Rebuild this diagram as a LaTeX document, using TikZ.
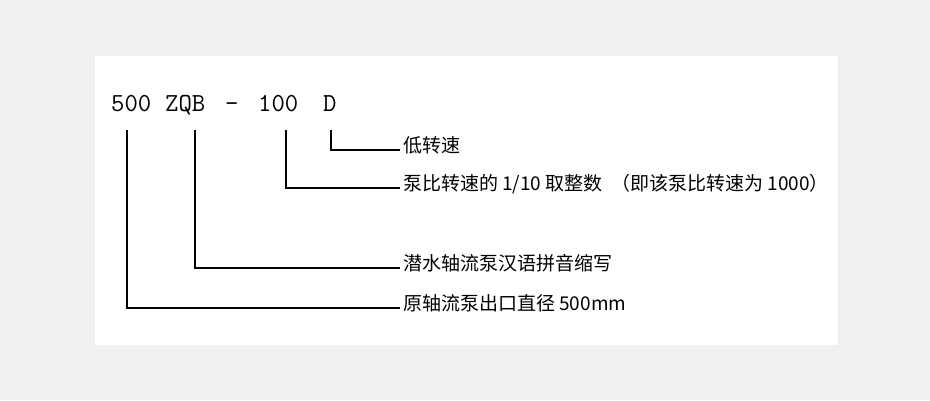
\documentclass[tikz,border=0pt]{standalone}
\usepackage{fontspec}
\setmonofont{Latin Modern Mono}
\newfontfamily\cjk{Noto Sans CJK SC}
\usepackage{tikz}
\usetikzlibrary{positioning, calc}

\definecolor{pagegray}{HTML}{F0F0F0}

\tikzset{
	codepart/.style={anchor=base west, inner sep=0pt, font=\fontsize{26}{30}\selectfont\ttfamily},
	meaning/.style={anchor=base west, inner xsep=3pt, inner ysep=0pt, font=\fontsize{19}{22}\selectfont\cjk},
	bracket/.style={line width=2pt}
}

\begin{document}
\begin{tikzpicture}[x=1pt, y=-1pt]
		\useasboundingbox (0,0) rectangle (930,400);
		\fill [pagegray] (0,0) rectangle (930,400);
		\fill [white] (95,56) rectangle (838,345);
		
		\node (code500) [codepart] at (111,111) {500};
		\node (codeZQB) [codepart] at (165,111) {ZQB};
		\node (codedash) [codepart] at (225,111) {-};
		\node (code100) [codepart] at (258,111) {100};
		\node (codeD) [codepart] at (323,111) {D};
		
		\coordinate (top500) at (127,130);
		\coordinate (topZQB) at (195,130);
		\coordinate (top100) at (286,130);
		\coordinate (topD) at (331,130);
		
		\node (labD) [meaning] at (400,152.5) {低转速};
		\node (lab100) [meaning] at (400,190.5) {泵比转速的 1/10 取整数\ \ （即该泵比转速为 1000）};
		\node (labZQB) [meaning] at (400,270.5) {潜水轴流泵汉语拼音缩写};
		\node (lab500) [meaning] at (400,310.5) {原轴流泵出口直径 500mm};
		
		\draw [bracket] (topD) |- ([yshift=2.5pt]labD.base west);
		\draw [bracket] (top100) |- ([yshift=2.5pt]lab100.base west);
		\draw [bracket] (topZQB) |- ([yshift=2.5pt]labZQB.base west);
		\draw [bracket] (top500) |- ([yshift=2.5pt]lab500.base west);
		
	\end{tikzpicture}
\end{document}
